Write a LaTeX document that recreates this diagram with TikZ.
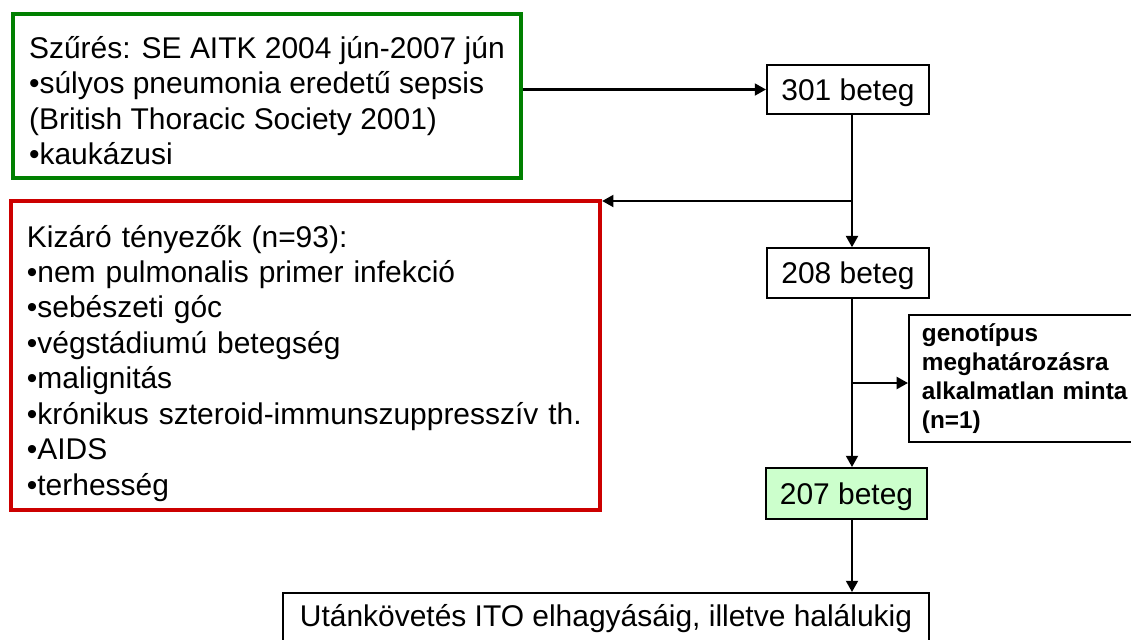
\documentclass[tikz,border=0pt]{standalone}
\usepackage{fontspec}
\setmainfont{Liberation Sans}
\usetikzlibrary{arrows.meta}
\definecolor{framegreen}{RGB}{0,128,0}
\definecolor{framered}{RGB}{204,0,0}
\definecolor{cellgreen}{RGB}{204,255,204}
\begin{document}
\begin{tikzpicture}[
  x=0.025cm, y=-0.025cm,
  every node/.style={font=\fontsize{21.3}{25.2}\selectfont, draw, inner sep=0pt},
  listbox/.style={line width=3pt, align=left, inner xsep=0.4cm},
  countbox/.style={line width=1.4pt, minimum width=4.05cm, minimum height=1.24cm, text depth=0pt},
  notebox/.style={line width=1.4pt, align=left, inner xsep=0.325cm, font=\fontsize{17.3}{20.6}\selectfont\bfseries},
  arr/.style={line width=1.5pt, -{Triangle[length=8pt,width=8.5pt]}}
]
\clip (0,0) rectangle (1131,639);
\coordinate (trunk) at (852,0);
\coordinate (split1) at (852,201);
\coordinate (split2) at (852,383);
\node[listbox, draw=framegreen, minimum height=4.1cm, anchor=west] (screen) at (11,96)
  {\rule{0pt}{1.05em}Szűrés: SE AITK 2004 jún-2007 jún\\
   •súlyos pneumonia eredetű sepsis\\
   (British Thoracic Society 2001)\\
   •kaukázusi};
\node[listbox, draw=framered, minimum height=7.725cm, text width=13.925cm] (excl) at (305.5,355.5)
  {\rule{0pt}{1.25em}Kizáró tényezők (n=93):\\
   •nem pulmonalis primer infekció\\
   •sebészeti góc\\
   •végstádiumú betegség\\
   •malignitás\\
   •krónikus szteroid-immunszuppresszív th.\\
   •AIDS\\
   •terhesség};
\node[countbox] (n301) at (848,89.5) {301 beteg};
\node[countbox] (n208) at (848,273) {208 beteg};
\node[notebox, minimum height=3.175cm, text width=6cm] (geno) at (1042,378.5)
  {genotípus\\ meghatározásra\\ alkalmatlan minta\\ (n=1)};
\node[countbox, fill=cellgreen, minimum width=4.025cm, minimum height=1.275cm] (n207) at (846.5,493.5) {207 beteg};
\node[line width=1.4pt, minimum width=16.15cm, minimum height=1.3cm] (follow) at (606,619)
  {Utánkövetés ITO elhagyásáig, illetve halálukig};
\draw[arr] (screen.east |- n301.west) -- (n301.west);
\draw[arr] (n301.south -| trunk) -- (n208.north -| trunk);
\draw[arr] (split1) -- (split1 -| excl.east);
\draw[arr] (n208.south -| trunk) -- (n207.north -| trunk);
\draw[arr] (split2) -- (split2 -| geno.west);
\draw[arr] (n207.south -| trunk) -- (follow.north -| trunk);
\end{tikzpicture}
\end{document}
